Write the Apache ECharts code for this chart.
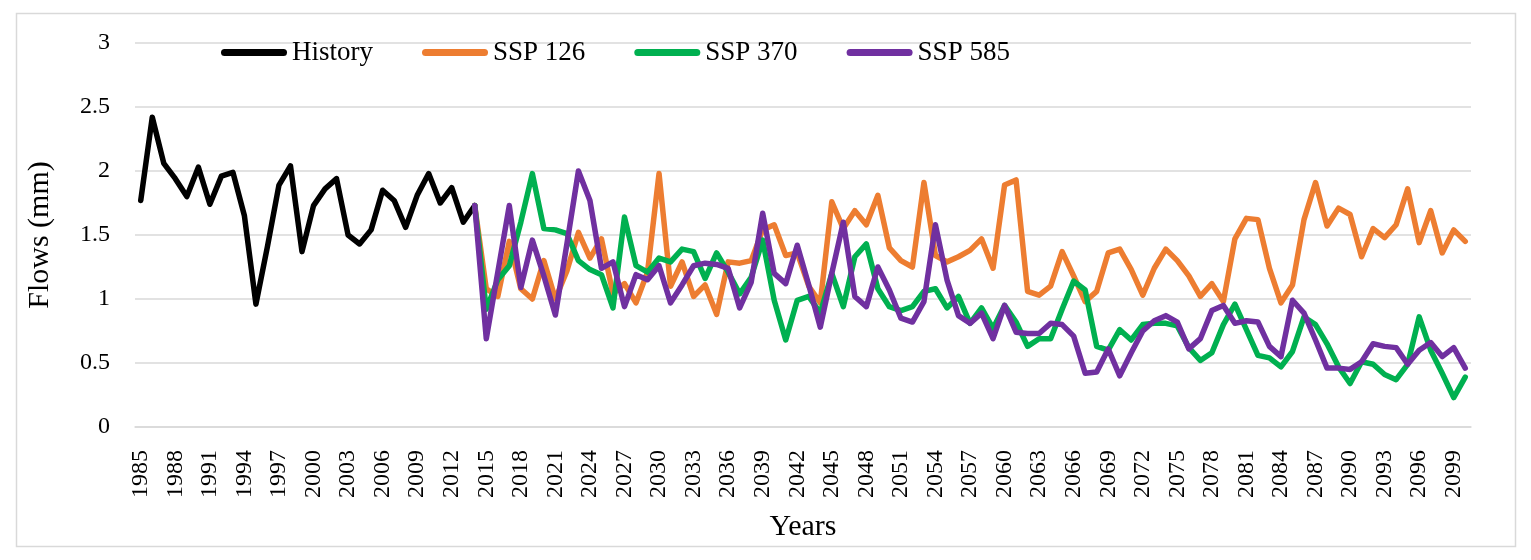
<!DOCTYPE html>
<html>
<head>
<meta charset="utf-8">
<script src="https://cdn.jsdelivr.net/npm/echarts@6/dist/echarts.min.js"></script>
<style>
  html, body { margin: 0; padding: 0; background: #fff; }
  #chart { width: 1531px; height: 560px; }
</style>
</head>
<body>
<div id="chart"></div>
<script>
// years on the category axis, 1985 .. 2100
const years = [];
for (let y = 1985; y <= 2100; y++) years.push(String(y));

const yTicks = [0, 0.5, 1, 1.5, 2, 2.5, 3];

// observed flows 1985-2014
const history = [
  1.77, 2.42, 2.06, 1.94, 1.80, 2.03, 1.74, 1.96, 1.99, 1.65,
  0.96, 1.41, 1.89, 2.04, 1.37, 1.73, 1.86, 1.94, 1.50, 1.43,
  1.54, 1.85, 1.77, 1.56, 1.81, 1.98, 1.75, 1.87, 1.60, 1.73
];

// scenarios 2014-2100 (start from last observed year)
const ssp126 = [
  1.73, 1.08, 1.02, 1.45, 1.08, 1.00, 1.30, 1.00, 1.22, 1.52,
  1.32, 1.47, 1.04, 1.12, 0.97, 1.21, 1.98, 1.10, 1.29, 1.02,
  1.11, 0.88, 1.29, 1.28, 1.30, 1.54, 1.58, 1.34, 1.36, 1.10,
  0.97, 1.76, 1.55, 1.69, 1.58, 1.81, 1.40, 1.30, 1.25, 1.91,
  1.34, 1.29, 1.33, 1.38, 1.47, 1.24, 1.89, 1.93, 1.06, 1.03,
  1.10, 1.37, 1.18, 0.98, 1.06, 1.36, 1.39, 1.23, 1.03, 1.24,
  1.39, 1.30, 1.18, 1.02, 1.12, 0.98, 1.47, 1.63, 1.62, 1.24,
  0.97, 1.11, 1.62, 1.91, 1.57, 1.71, 1.66, 1.33, 1.55, 1.48,
  1.58, 1.86, 1.44, 1.69, 1.36, 1.54, 1.45
];

const ssp370 = [
  1.73, 0.92, 1.15, 1.26, 1.60, 1.98, 1.55, 1.54, 1.51, 1.30,
  1.23, 1.19, 0.93, 1.64, 1.26, 1.21, 1.32, 1.29, 1.39, 1.37,
  1.16, 1.36, 1.21, 1.04, 1.17, 1.46, 0.99, 0.68, 0.99, 1.02,
  0.89, 1.20, 0.94, 1.33, 1.43, 1.08, 0.94, 0.91, 0.94, 1.06,
  1.08, 0.93, 1.02, 0.81, 0.93, 0.77, 0.95, 0.82, 0.63, 0.69,
  0.69, 0.92, 1.14, 1.07, 0.63, 0.60, 0.76, 0.68, 0.80, 0.81,
  0.81, 0.79, 0.62, 0.52, 0.58, 0.80, 0.96, 0.76, 0.56, 0.54,
  0.47, 0.59, 0.86, 0.80, 0.65, 0.47, 0.34, 0.51, 0.49, 0.41,
  0.37, 0.49, 0.86, 0.60, 0.42, 0.23, 0.39
];

const ssp585 = [
  1.73, 0.69, 1.21, 1.73, 1.09, 1.46, 1.18, 0.875, 1.43, 2.00,
  1.77, 1.24, 1.29, 0.94, 1.19, 1.15, 1.26, 0.97, 1.11, 1.26,
  1.28, 1.27, 1.24, 0.93, 1.13, 1.67, 1.20, 1.12, 1.42, 1.11,
  0.78, 1.20, 1.60, 1.02, 0.94, 1.25, 1.07, 0.85, 0.82, 0.98,
  1.58, 1.15, 0.87, 0.81, 0.89, 0.69, 0.95, 0.74, 0.73, 0.73,
  0.81, 0.80, 0.71, 0.42, 0.43, 0.61, 0.40, 0.58, 0.75, 0.83,
  0.87, 0.82, 0.61, 0.69, 0.91, 0.95, 0.81, 0.83, 0.82, 0.63,
  0.55, 0.99, 0.89, 0.68, 0.46, 0.46, 0.45, 0.51, 0.65, 0.63,
  0.62, 0.49, 0.60, 0.66, 0.55, 0.62, 0.46
];

const seriesNames = ['History', 'SSP 126', 'SSP 370', 'SSP 585'];
const colors = ['#000000', '#ED7D31', '#00B050', '#7030A0'];

const font = 'Liberation Serif, Times New Roman, serif';

// line up each series with the 1985-2100 categories
function alignTo(start, values) {
  const out = years.map(() => null);
  const off = years.indexOf(String(start));
  values.forEach((v, i) => { out[off + i] = v; });
  return out;
}

const seriesData = [
  alignTo(1985, history),
  alignTo(2014, ssp126),
  alignTo(2014, ssp370),
  alignTo(2014, ssp585)
];

const chart = echarts.init(document.getElementById('chart'), null, { renderer: 'canvas' });

chart.setOption({
  animation: false,
  color: colors,
  graphic: [{
    type: 'rect',
    shape: { x: 16.5, y: 13.5, width: 1499, height: 533 },
    style: { fill: 'none', stroke: '#d9d9d9', lineWidth: 1.5 },
    silent: true,
    z: -10
  }],
  legend: {
    data: seriesNames,
    left: 216,
    top: 34,
    itemWidth: 66,
    itemHeight: 7,
    itemGap: 49,
    icon: 'path://M3.5,0 L62.5,0 A3.5,3.5 0 0 1 62.5,7 L3.5,7 A3.5,3.5 0 0 1 3.5,0 Z',
    textStyle: { fontFamily: font, fontSize: 27, color: '#000' }
  },
  grid: { left: 135, right: 60, top: 43, bottom: 133 },
  xAxis: {
    type: 'category',
    data: years,
    boundaryGap: true,
    name: 'Years',
    nameLocation: 'middle',
    nameGap: 85,
    nameTextStyle: { fontFamily: font, fontSize: 30, color: '#000' },
    axisLine: { lineStyle: { color: '#d9d9d9', width: 1.5 } },
    axisTick: { show: false },
    axisLabel: {
      interval: 2,
      rotate: 90,
      margin: 23,
      fontFamily: font,
      fontSize: 24,
      color: '#000'
    }
  },
  yAxis: {
    type: 'value',
    min: yTicks[0],
    max: yTicks[yTicks.length - 1],
    interval: 0.5,
    name: 'Flows (mm)',
    nameLocation: 'middle',
    nameGap: 80,
    nameTextStyle: { fontFamily: font, fontSize: 30, color: '#000' },
    axisLine: { show: false },
    axisTick: { show: false },
    axisLabel: { margin: 25, fontFamily: font, fontSize: 24, color: '#000' },
    splitLine: { lineStyle: { color: '#d9d9d9', width: 1.5 } }
  },
  series: seriesNames.map((name, i) => ({
    name: name,
    type: 'line',
    data: seriesData[i],
    symbol: 'none',
    connectNulls: false,
    lineStyle: { width: 5.5, color: colors[i], cap: 'round', join: 'round' },
    z: 2 + i
  }))
});
</script>
</body>
</html>
